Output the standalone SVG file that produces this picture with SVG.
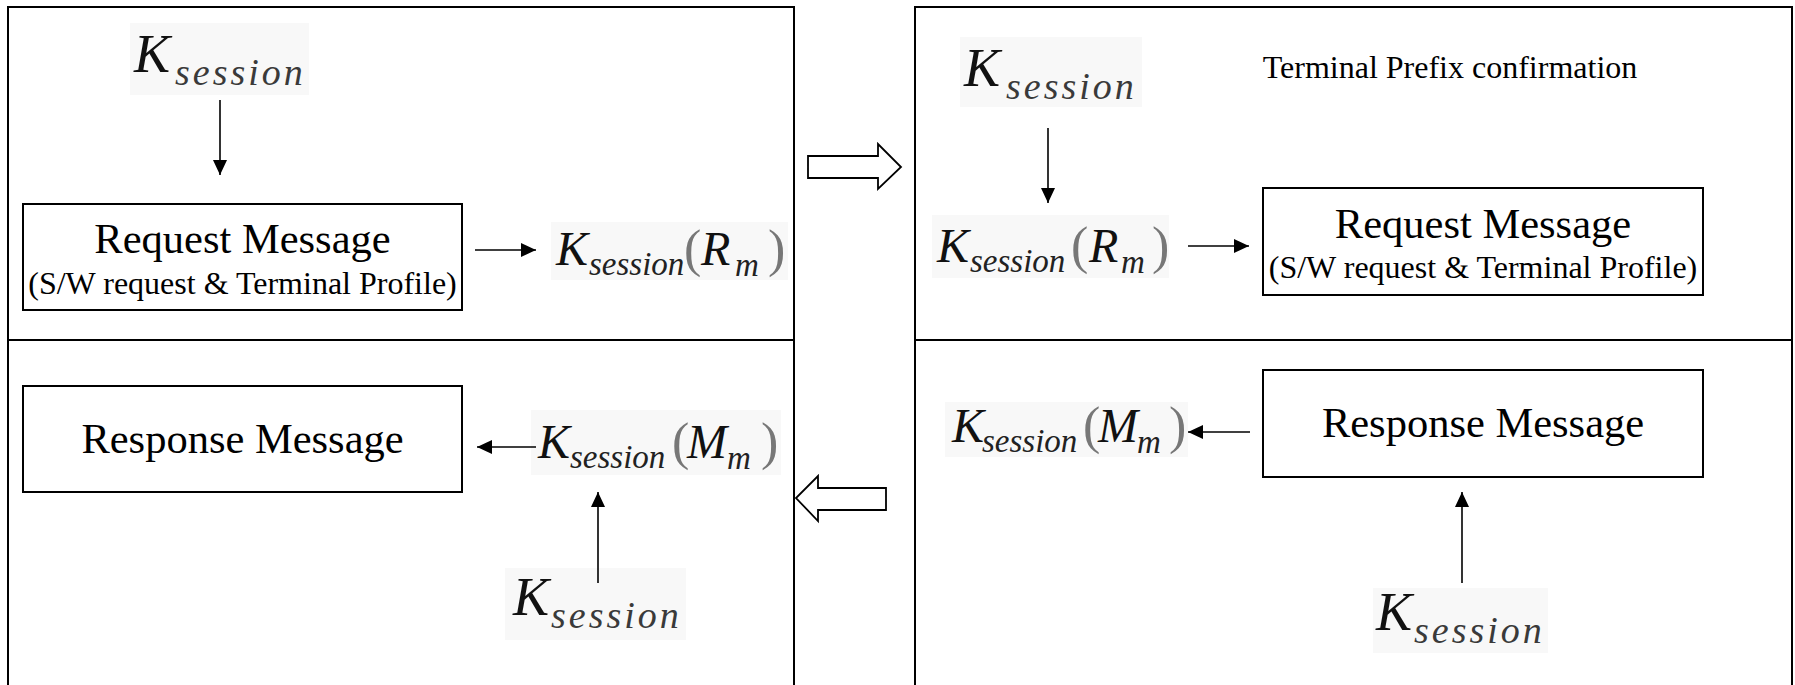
<svg xmlns="http://www.w3.org/2000/svg" width="1795" height="685" viewBox="0 0 1795 685">
<style>
.panel{fill:none;stroke:#000;stroke-width:2}
.box{fill:#fff;stroke:#000;stroke-width:2}
.t{font-family:"Liberation Serif","Times New Roman",serif;fill:#000}
.big{font-size:42.5px}
.sub{font-size:32px}
.mi{font-family:"Liberation Serif","Times New Roman",serif;font-style:italic;fill:#111}
.K{font-size:54px}
.s1{font-size:38px;letter-spacing:3px;fill:#3a3a3a}
.K2{font-size:48px}
.s2{font-size:33px;fill:#222}
.par{font-family:"Liberation Serif","Times New Roman",serif;font-size:52px;fill:#777}
.bg{fill:#f8f8f8}
.conn{stroke:#000;stroke-width:1.6;fill:none}
.hollow{fill:#fff;stroke:#000;stroke-width:1.8}
</style>
<defs>
<marker id="ah" markerUnits="userSpaceOnUse" markerWidth="16" markerHeight="14" refX="15" refY="7" orient="auto">
<path d="M0,0 L15,7 L0,14 z" fill="#000"/>
</marker>
</defs>
<rect width="1795" height="685" fill="#fff"/>

<g id="panel-left">
<rect class="panel" x="8" y="7" width="786" height="700"/>
<line class="panel" x1="8" y1="340" x2="794" y2="340"/>
</g>
<g id="panel-right">
<rect class="panel" x="915" y="7" width="877" height="700"/>
<line class="panel" x1="915" y1="340" x2="1792" y2="340"/>
</g>

<g id="ks-top-left">
<rect class="bg" x="130" y="23" width="179" height="72"/>
<text class="mi K" x="134" y="72">K</text>
<text class="mi s1" x="175" y="85">session</text>
</g>

<g id="request-left">
<rect class="box" x="23" y="204" width="439" height="106"/>
<text class="t big" x="242.5" y="253" text-anchor="middle">Request Message</text>
<text class="t sub" x="242.5" y="294" text-anchor="middle">(S/W request &amp; Terminal Profile)</text>
</g>

<g id="ksr-left">
<rect class="bg" x="551" y="222" width="237" height="58"/>
<text class="mi K2" x="556" y="265">K</text>
<text class="mi s2" x="589" y="275">session</text>
<text class="par" x="684" y="266">(</text>
<text class="mi K2" x="701" y="265">R</text>
<text class="mi s2" x="735" y="276">m</text>
<text class="par" x="768" y="266">)</text>
</g>

<g id="ks-top-right">
<rect class="bg" x="960" y="37" width="182" height="70"/>
<text class="mi K" x="964" y="86">K</text>
<text class="mi s1" x="1006" y="99">session</text>
</g>

<g id="terminal-prefix">
<text class="t sub" x="1450" y="78" text-anchor="middle">Terminal Prefix confirmation</text>
</g>

<g id="ksr-right">
<rect class="bg" x="932" y="215" width="237" height="63"/>
<text class="mi K2" x="937" y="262">K</text>
<text class="mi s2" x="970" y="272">session</text>
<text class="par" x="1071" y="263">(</text>
<text class="mi K2" x="1089" y="262">R</text>
<text class="mi s2" x="1121" y="273">m</text>
<text class="par" x="1152" y="263">)</text>
</g>

<g id="request-right">
<rect class="box" x="1263" y="188" width="440" height="107"/>
<text class="t big" x="1483" y="238" text-anchor="middle">Request Message</text>
<text class="t sub" x="1483" y="278" text-anchor="middle">(S/W request &amp; Terminal Profile)</text>
</g>

<g id="response-left">
<rect class="box" x="23" y="386" width="439" height="106"/>
<text class="t big" x="242.5" y="453" text-anchor="middle">Response Message</text>
</g>

<g id="ksm-left">
<rect class="bg" x="531" y="410" width="250" height="65"/>
<text class="mi K2" x="538" y="458">K</text>
<text class="mi s2" x="570" y="468">session</text>
<text class="par" x="672" y="459">(</text>
<text class="mi K2" x="687" y="458">M</text>
<text class="mi s2" x="727" y="469">m</text>
<text class="par" x="761" y="459">)</text>
</g>

<g id="ks-bottom-left">
<rect class="bg" x="505" y="568" width="181" height="72"/>
<text class="mi K" x="513" y="615">K</text>
<text class="mi s1" x="551" y="628">session</text>
</g>

<g id="response-right">
<rect class="box" x="1263" y="370" width="440" height="107"/>
<text class="t big" x="1483" y="437" text-anchor="middle">Response Message</text>
</g>

<g id="ksm-right">
<rect class="bg" x="945" y="402" width="243" height="55"/>
<text class="mi K2" x="952" y="442">K</text>
<text class="mi s2" x="982" y="452">session</text>
<text class="par" x="1083" y="443">(</text>
<text class="mi K2" x="1098" y="442">M</text>
<text class="mi s2" x="1137" y="453">m</text>
<text class="par" x="1169" y="443">)</text>
</g>

<g id="ks-bottom-right">
<rect class="bg" x="1373" y="588" width="175" height="65"/>
<text class="mi K" x="1376" y="630">K</text>
<text class="mi s1" x="1414" y="643">session</text>
</g>

<g id="connectors">
<line class="conn" x1="220" y1="100" x2="220" y2="175" marker-end="url(#ah)"/>
<line class="conn" x1="475" y1="250" x2="536" y2="250" marker-end="url(#ah)"/>
<line class="conn" x1="1048" y1="128" x2="1048" y2="203" marker-end="url(#ah)"/>
<line class="conn" x1="1188" y1="246" x2="1249" y2="246" marker-end="url(#ah)"/>
<line class="conn" x1="536" y1="447" x2="477" y2="447" marker-end="url(#ah)"/>
<line class="conn" x1="598" y1="583" x2="598" y2="492" marker-end="url(#ah)"/>
<line class="conn" x1="1250" y1="432" x2="1188" y2="432" marker-end="url(#ah)"/>
<line class="conn" x1="1462" y1="583" x2="1462" y2="492" marker-end="url(#ah)"/>
<path class="hollow" d="M808,156 L878,156 L878,144 L901,167 L878,189 L878,178 L808,178 Z"/>
<path class="hollow" d="M886,488 L818,488 L818,476 L796,498 L818,521 L818,510 L886,510 Z"/>
</g>
</svg>
